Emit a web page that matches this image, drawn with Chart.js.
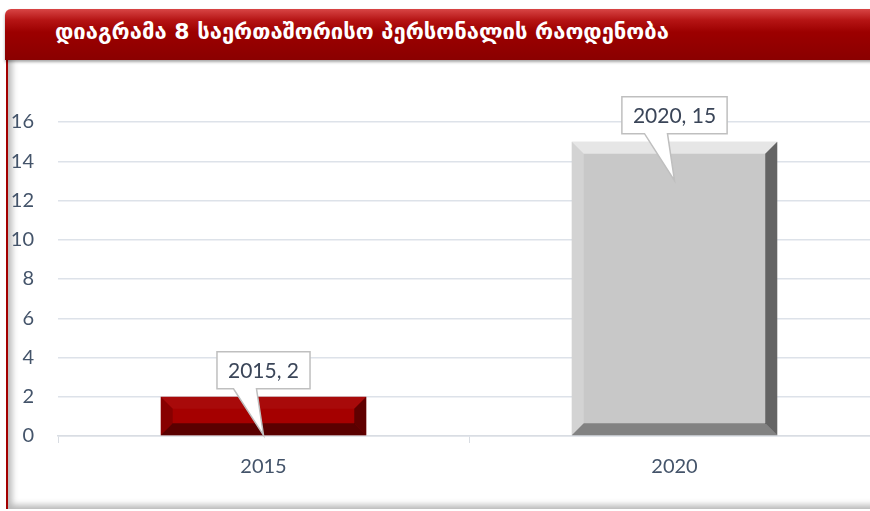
<!DOCTYPE html>
<html>
<head>
<meta charset="utf-8">
<script src="https://cdn.jsdelivr.net/npm/chart.js@4.4.1/dist/chart.umd.min.js"></script>
<style>
  html, body { margin: 0; padding: 0; width: 870px; height: 511px; overflow: hidden; background: #fff; }
  #panel {
    position: absolute; left: 6px; top: 48px; width: 900px; height: 461px;
    border-left: 2px solid #a30000;
    box-shadow: inset 6px -6px 6px -2px rgba(0,0,0,0.28);
    background: #fff;
  }
  #banner {
    position: absolute; left: 5px; top: 9px; width: 900px; height: 51px;
    border-radius: 6px 0 0 0;
    background: linear-gradient(to bottom, #d84545 0%, #b51414 22%, #9c0000 45%, #8a0000 100%);
    box-shadow: 0 2px 3px rgba(0,0,0,0.35);
  }
  #banner span {
    position: absolute; left: 50px; top: 10px;
    font-family: "DejaVu Sans", sans-serif; font-size: 22px; font-weight: bold; color: #fff;
    white-space: nowrap;
  }
  #wrap { position: absolute; left: 0; top: 60px; width: 880px; height: 451px; }
</style>
</head>
<body>
<div id="panel"></div>
<div id="banner"><span>დიაგრამა 8 საერთაშორისო პერსონალის რაოდენობა</span></div>
<div id="wrap"><canvas id="grafico"></canvas></div>
<script>
const categories = ['2015', '2020'];
const values = [2, 15];
const barColors = ['#a50000', '#c8c8c8'];
const yMax = 16;
const yStep = 2;

// bisel de las barras
const bevelPlugin = {
  id: 'bevel',
  afterDatasetsDraw(chart) {
    const ctx = chart.ctx;
    const meta = chart.getDatasetMeta(0);
    meta.data.forEach((bar, i) => {
      const l = bar.x - bar.width / 2, r = bar.x + bar.width / 2;
      const t = bar.y, b = bar.base;
      const s = Math.min(12, (b - t) / 3);
      const shades = i === 0
        ? { top: 'rgba(255,255,255,0.04)', left: 'rgba(0,0,0,0.18)', right: 'rgba(0,0,0,0.42)', bottom: 'rgba(0,0,0,0.45)' }
        : { top: 'rgba(255,255,255,0.55)', left: 'rgba(255,255,255,0.2)', right: 'rgba(0,0,0,0.5)', bottom: 'rgba(0,0,0,0.35)' };
      const poly = (pts, c) => {
        ctx.beginPath();
        ctx.moveTo(pts[0][0], pts[0][1]);
        pts.slice(1).forEach(p => ctx.lineTo(p[0], p[1]));
        ctx.closePath();
        ctx.fillStyle = c;
        ctx.fill();
      };
      ctx.save();
      poly([[l, t], [r, t], [r - s, t + s], [l + s, t + s]], shades.top);
      poly([[l, t], [l + s, t + s], [l + s, b - s], [l, b]], shades.left);
      poly([[r, t], [r, b], [r - s, b - s], [r - s, t + s]], shades.right);
      poly([[l, b], [l + s, b - s], [r - s, b - s], [r, b]], shades.bottom);
      ctx.restore();
    });
  }
};

// etiquetas tipo globo
const calloutPlugin = {
  id: 'callout',
  afterDraw(chart) {
    const ctx = chart.ctx;
    const meta = chart.getDatasetMeta(0);
    ctx.save();
    ctx.font = '21px Lato, "Open Sans", sans-serif';
    meta.data.forEach((bar, i) => {
      const text = categories[i] + ', ' + values[i];
      const w = ctx.measureText(text).width + 22;
      const h = 37;
      const cx = bar.x;
      const bottom = bar.y - 8;
      const top = bottom - h;
      const left = cx - w / 2, right = cx + w / 2;
      const tipY = Math.min(bar.y + 39, bar.base);
      ctx.beginPath();
      ctx.moveTo(left, top);
      ctx.lineTo(right, top);
      ctx.lineTo(right, bottom);
      ctx.lineTo(cx - 7, bottom);
      ctx.lineTo(cx, tipY);
      ctx.lineTo(cx - 30, bottom);
      ctx.lineTo(left, bottom);
      ctx.closePath();
      ctx.fillStyle = '#ffffff';
      ctx.fill();
      ctx.strokeStyle = '#bfbfbf';
      ctx.lineWidth = 1.5;
      ctx.stroke();
      ctx.fillStyle = '#3a4558';
      ctx.textAlign = 'center';
      ctx.textBaseline = 'middle';
      ctx.fillText(text, cx, top + h / 2 + 1);
    });
    ctx.restore();
  }
};

const ctx = document.getElementById('grafico');
new Chart(ctx, {
  type: 'bar',
  data: {
    labels: categories,
    datasets: [{
      data: values,
      backgroundColor: barColors,
      borderWidth: 0,
      barPercentage: 0.5,
      categoryPercentage: 1
    }]
  },
  options: {
    responsive: true,
    maintainAspectRatio: false,
    animation: false,
    layout: { padding: { top: 62, right: 0, bottom: 0, left: 0 } },
    plugins: {
      legend: { display: false },
      tooltip: { enabled: false }
    },
    scales: {
      x: {
        afterFit: s => { s.height = 75; },
        grid: { drawOnChartArea: false, drawTicks: true, tickLength: 7, color: '#d9dde3', offset: true },
        border: { color: '#d9dde3', width: 1.5 },
        ticks: { color: '#44546a', padding: 12, font: { family: 'Lato, "Open Sans", sans-serif', size: 20 } }
      },
      y: {
        min: 0,
        max: yMax,
        afterFit: s => { s.width = 58; },
        grid: { color: '#dde2e9', lineWidth: 1.5, drawTicks: false },
        border: { display: false },
        ticks: { stepSize: yStep, color: '#44546a', padding: 24, font: { family: 'Lato, "Open Sans", sans-serif', size: 20 } }
      }
    }
  },
  plugins: [bevelPlugin, calloutPlugin]
});
</script>
</body>
</html>
